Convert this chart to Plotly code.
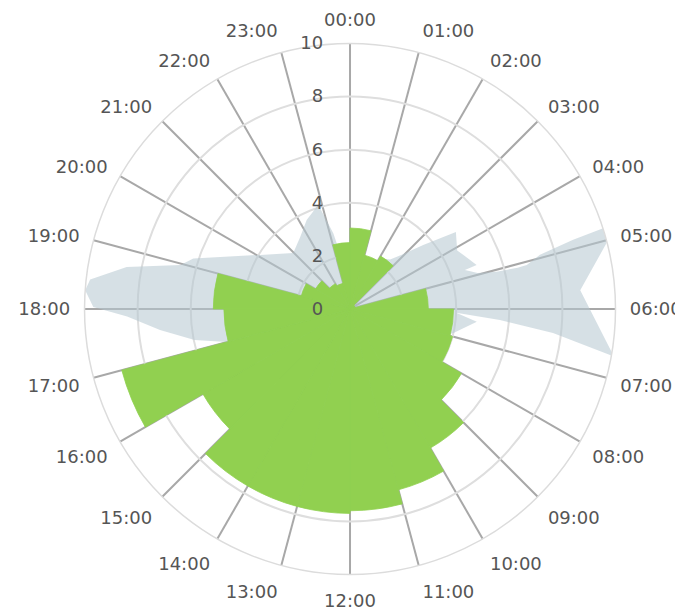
import plotly.graph_objects as go

# Hour labels (angular axis)
hour_labels = [f"{h:02d}:00" for h in range(24)]

# Green series: one value per hour slot [h, h+1)
green_hours = list(range(24))
green_values = [3.05, 2.1, 2.3, 0.2, 0.2, 2.95, 3.9, 4.0, 4.85, 6.05, 7.05, 7.6,
                7.7, 7.7, 7.7, 6.4, 8.9, 4.75, 5.15, 1.9, 1.5, 1.1, 1.0, 2.5]

# Grey series: outline of the area (hour position, value)
gray_hours = [0.0, 1.0, 2.0, 2.6, 2.9, 3.26, 3.6, 4.09, 4.4, 4.72, 4.75, 4.95, 5.05,
              5.08, 5.07, 4.94, 4.85, 4.81, 5.69, 6.68, 6.45, 6.28, 6.14, 6.38, 6.87,
              7.2, 10.0, 13.0, 16.0, 16.9, 17.0, 17.25, 17.58, 17.87, 18.03, 18.27,
              18.43, 18.71, 18.97, 19.19, 20.07, 20.97, 21.69, 22.27, 22.87, 23.17,
              23.24, 23.6]
gray_values = [2.0, 1.5, 2.2, 2.4, 2.8, 3.66, 4.93, 4.6, 4.8, 5.05, 4.57, 5.0, 5.7,
               6.5, 6.86, 7.44, 8.8, 10.6, 8.7, 10.1, 7.7, 5.66, 4.0, 4.8, 4.0,
               3.5, 4.0, 4.0, 4.0, 4.5, 4.8, 5.97, 7.2, 8.4, 9.67, 10.0,
               9.85, 8.56, 6.6, 6.2, 3.95, 3.0, 3.3, 3.73, 4.1, 2.92,
               2.52, 2.0]

radial_ticks = [0, 2, 4, 6, 8, 10]

GREEN = "rgb(145,208,80)"
GRAY = "rgba(180,199,208,0.55)"
FONT = "DejaVu Sans"
TXT = "#555555"

# page body has an 8px margin, so the domain is shifted accordingly
DOMAIN = dict(x=[0.1120, 0.8895], y=[0.0759, 0.9421])

fig = go.Figure()
fig.add_trace(go.Scatterpolar(
    r=gray_values + [gray_values[0]],
    theta=[h * 15 for h in gray_hours] + [gray_hours[0] * 15],
    mode="lines", fill="toself", fillcolor=GRAY,
    line=dict(width=0, color=GRAY), hoverinfo="skip", showlegend=False,
    subplot="polar",
))
fig.add_trace(go.Barpolar(
    r=green_values,
    theta=[h * 15 + 7.5 for h in green_hours],
    width=[15] * 24,
    marker=dict(color=GREEN, line=dict(width=0.8, color=GREEN)),
    showlegend=False,
    subplot="polar2",
))

common_ang = dict(direction="clockwise", rotation=90)

fig.update_layout(
    width=683, height=613,
    margin=dict(l=0, r=0, t=0, b=0),
    paper_bgcolor="white",
    showlegend=False,
    polar=dict(
        domain=DOMAIN,
        bgcolor="white",
        angularaxis=dict(
            **common_ang,
            tickmode="array", tickvals=[h * 15 for h in range(24)],
            ticktext=hour_labels,
            showgrid=True, gridcolor="#a8a8a8", gridwidth=2,
            showline=True, linecolor="#dcdcdc", linewidth=1.5,
            ticks="outside", ticklen=10, tickcolor="rgba(0,0,0,0)",
            tickfont=dict(family=FONT, size=18, color=TXT),
        ),
        radialaxis=dict(
            range=[0, 10], tickmode="array", tickvals=radial_ticks,
            showgrid=True, gridcolor="#dedede", gridwidth=1.5,
            showline=False, showticklabels=False, ticks="", angle=90,
        ),
    ),
    polar2=dict(
        domain=DOMAIN,
        bgcolor="rgba(0,0,0,0)",
        bargap=0,
        angularaxis=dict(
            **common_ang,
            showgrid=False, showline=False, showticklabels=False, ticks="",
        ),
        radialaxis=dict(
            range=[0, 10], tickmode="array", tickvals=radial_ticks,
            ticktext=[str(v) for v in radial_ticks],
            showgrid=False, showline=False, angle=90, tickangle=90,
            side="counterclockwise",
            ticks="outside", ticklen=20, tickcolor="rgba(0,0,0,0)",
            layer="above traces",
            tickfont=dict(family=FONT, size=18, color=TXT),
        ),
    ),
)

fig.write_html("out.html")
